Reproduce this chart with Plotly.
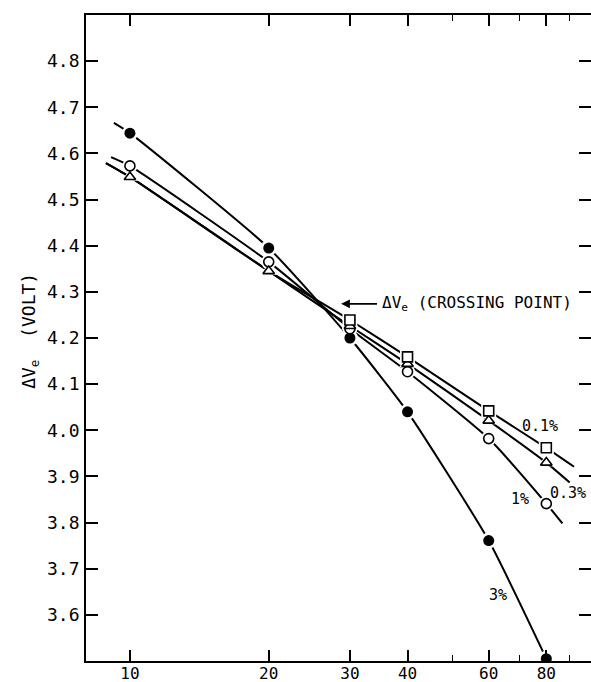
import numpy as np
import plotly.graph_objects as go

# ---- data ----
conc = [10, 20, 30, 40, 60, 80]
v_3pct = [4.644, 4.395, 4.200, 4.040, 3.761, 3.505]
v_1pct = [4.573, 4.365, 4.220, 4.127, 3.982, 3.841]
v_03pct = [4.549, 4.345, 4.226, 4.144, 4.021, 3.930]
v_01pct = [None, None, 4.239, 4.159, 4.042, 3.962]

# drawn curve extents (line end points beyond the measured points)
line_x_3pct = [9.23, 10, 20, 30, 40, 60, 80]
line_v_3pct = [4.666, 4.644, 4.395, 4.200, 4.040, 3.761, 3.505]
line_x_1pct = [9.1, 10, 20, 30, 40, 60, 80, 86.7]
line_v_1pct = [4.592, 4.573, 4.365, 4.220, 4.127, 3.982, 3.841, 3.798]
line_x_03pct = [8.87, 10, 20, 30, 40, 60, 80, 89.9]
line_v_03pct = [4.579, 4.549, 4.345, 4.226, 4.144, 4.021, 3.930, 3.887]
line_x_01pct = [8.87, 10, 20, 30, 40, 60, 80, 91.9]
line_v_01pct = [4.579, 4.549, 4.345, 4.239, 4.159, 4.042, 3.962, 3.921]

x_ticks = [10, 20, 30, 40, 60, 80]
x_minor = [50, 70, 90]
y_ticks = [3.6, 3.7, 3.8, 3.9, 4.0, 4.1, 4.2, 4.3, 4.4, 4.5, 4.6, 4.7, 4.8]
y_ticktext = ["3.6", "3.7", "3.8", "3.9", "4.0", "4.1", "4.2", "4.3", "4.4", "4.5", "4.6", "4.7", "4.8"]

series_labels = ["0.1%", "0.3%", "1%", "3%"]
label_x = [77.5, 89.2, 70.2, 62.8]
label_y = [4.010, 3.865, 3.852, 3.644]

crossing_arrow_x = 28.7
crossing_arrow_tail_x = 34.6
crossing_y = 4.274

FONT = "DejaVu Sans Mono"
fig = go.Figure()

lines = [
    (line_x_3pct, line_v_3pct),
    (line_x_1pct, line_v_1pct),
    (line_x_03pct, line_v_03pct),
    (line_x_01pct, line_v_01pct),
]
for lx, lv in lines:
    fig.add_trace(go.Scatter(x=lx, y=lv, mode="lines",
                             line=dict(color="black", width=2, shape="spline", smoothing=0.5),
                             hoverinfo="skip", showlegend=False))

markers = [
    (v_3pct, "circle", "black", 11),
    (v_1pct, "circle-open", "black", 10),
    (v_03pct, "triangle-up-open", "black", 10),
    (v_01pct, "square-open", "black", 10),
]
# white halos (gaps around markers)
for vals, sym, col, size in markers:
    fig.add_trace(go.Scatter(x=conc, y=vals, mode="markers",
                             marker=dict(symbol="circle" if "circle" in sym else sym.replace("-open", ""),
                                         color="white", size=size + 5,
                                         line=dict(width=0)),
                             hoverinfo="skip", showlegend=False))
for vals, sym, col, size in markers:
    if sym.endswith("-open"):
        mk = dict(symbol=sym.replace("-open", ""), color="white", size=size,
                  line=dict(color="black", width=1.6))
    else:
        mk = dict(symbol=sym, color=col, size=size, line=dict(width=0))
    fig.add_trace(go.Scatter(x=conc, y=vals, mode="markers", marker=mk,
                             showlegend=False))

annotations = []
for t, lx, ly in zip(series_labels, label_x, label_y):
    annotations.append(dict(x=np.log10(lx), y=ly, xref="x", yref="y", text=t,
                            showarrow=False, font=dict(family=FONT, size=15, color="black")))

annotations.append(dict(x=np.log10(crossing_arrow_x), y=crossing_y, xref="x", yref="y",
                        ax=np.log10(crossing_arrow_tail_x), ay=crossing_y, axref="x", ayref="y",
                        text="", showarrow=True, arrowhead=2, arrowsize=1.1,
                        arrowwidth=1.6, arrowcolor="black"))
annotations.append(dict(x=np.log10(crossing_arrow_tail_x), y=crossing_y, xref="x", yref="y",
                        text="ΔV<sub>e</sub> (CROSSING POINT)", showarrow=False,
                        xanchor="left", yanchor="middle", xshift=2,
                        font=dict(family=FONT, size=16, color="black")))
annotations.append(dict(x=-0.111, y=0.511, xref="paper", yref="paper",
                        xanchor="center", yanchor="middle",
                        text="ΔV<sub>e</sub>  (VOLT)", textangle=-90, showarrow=False,
                        font=dict(family=FONT, size=18, color="black")))

fig.update_layout(
    width=591, height=682,
    margin=dict(l=86, r=0, t=15, b=21, autoexpand=False),
    paper_bgcolor="white", plot_bgcolor="white",
    annotations=annotations,
    font=dict(family=FONT, color="black"),
)
fig.update_xaxes(type="log", range=[np.log10(8.03), 2.0],
                 tickvals=x_ticks, ticktext=[str(v) for v in x_ticks],
                 ticks="inside", ticklen=11, tickwidth=1.5, tickcolor="black",
                 minor=dict(tickvals=x_minor, ticks="inside", ticklen=6, tickwidth=1.2,
                            tickcolor="black", showgrid=False),
                 showline=True, linecolor="black", linewidth=1.8, mirror="ticks",
                 showgrid=False, zeroline=False, automargin=False, ticklabelstandoff=-3,
                 tickfont=dict(family=FONT, size=16, color="black"))
fig.update_yaxes(range=[3.5, 4.9], tickvals=y_ticks, ticktext=y_ticktext,
                 ticks="inside", ticklen=12, tickwidth=1.5, tickcolor="black",
                 showline=True, linecolor="black", linewidth=1.8, mirror="ticks",
                 showgrid=False, zeroline=False, ticklabelstandoff=1, automargin=False,
                 tickfont=dict(family=FONT, size=18, color="black"))

fig.write_html("out.html", config={"displayModeBar": False},
               post_script="document.body.style.margin='0px';")
